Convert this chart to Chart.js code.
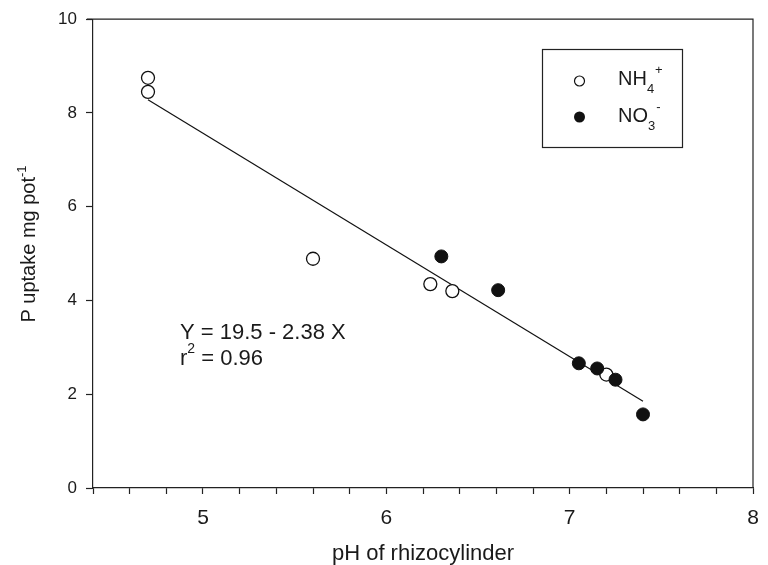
<!DOCTYPE html>
<html>
<head>
<meta charset="utf-8">
<script src="https://cdn.jsdelivr.net/npm/chart.js@4/dist/chart.umd.min.js"></script>
<style>
html,body{margin:0;padding:0;background:#fff;}
canvas{display:block;}
</style>
</head>
<body>
<canvas id="c" width="768" height="565"></canvas>
<script>
// NH4+ (open circles)
const nh4X = [4.70, 4.70, 5.60, 6.24, 6.36, 7.20];
const nh4Y = [8.75, 8.45, 4.89, 4.35, 4.20, 2.42];
// NO3- (filled circles)
const no3X = [6.30, 6.61, 7.05, 7.15, 7.25, 7.40];
const no3Y = [4.94, 4.22, 2.66, 2.55, 2.31, 1.57];
// regression line end points
const fitX = [4.70, 7.40];
const fitY = [8.28, 1.85];
const xTickLabels = [5, 6, 7, 8];
const yTickLabels = [0, 2, 4, 6, 8, 10];

const FONT = "'Liberation Sans', Arial, sans-serif";
const pts = (xs, ys) => xs.map((x, i) => ({x: x, y: ys[i]}));

const overlay = {
  id: 'overlay',
  afterDraw(chart) {
    const ctx = chart.ctx;
    const a = chart.chartArea;
    ctx.save();
    // frame top and right
    ctx.strokeStyle = '#222';
    ctx.lineWidth = 1.2;
    ctx.beginPath();
    ctx.moveTo(a.left - 6, a.top);
    ctx.lineTo(a.right, a.top);
    ctx.lineTo(a.right, a.bottom);
    ctx.stroke();

    // y axis title with superscript
    ctx.fillStyle = '#1a1a1a';
    ctx.save();
    ctx.translate(35, 244);
    ctx.rotate(-Math.PI / 2);
    const main = 'P uptake mg pot';
    ctx.font = '20px ' + FONT;
    const w1 = ctx.measureText(main).width;
    ctx.font = '13px ' + FONT;
    const w2 = ctx.measureText('-1').width;
    const start = -(w1 + w2) / 2;
    ctx.textBaseline = 'alphabetic';
    ctx.textAlign = 'left';
    ctx.font = '20px ' + FONT;
    ctx.fillText(main, start, 0);
    ctx.font = '13px ' + FONT;
    ctx.fillText('-1', start + w1, -9);
    ctx.restore();

    // equation
    ctx.textAlign = 'left';
    ctx.textBaseline = 'alphabetic';
    ctx.font = '22px ' + FONT;
    ctx.fillText('Y = 19.5 - 2.38 X', 180, 339);
    ctx.fillText('r', 180, 365);
    let rw = ctx.measureText('r').width;
    ctx.font = '14px ' + FONT;
    ctx.fillText('2', 180 + rw, 353);
    let tw = ctx.measureText('2').width;
    ctx.font = '22px ' + FONT;
    ctx.fillText(' = 0.96', 180 + rw + tw, 365);

    // legend box
    ctx.strokeStyle = '#222';
    ctx.lineWidth = 1.2;
    ctx.strokeRect(542.5, 49.5, 140, 98);
    // symbols
    ctx.beginPath();
    ctx.arc(579.5, 81, 5, 0, Math.PI * 2);
    ctx.fillStyle = '#fff';
    ctx.fill();
    ctx.strokeStyle = '#111';
    ctx.stroke();
    ctx.beginPath();
    ctx.arc(579.5, 117, 5.5, 0, Math.PI * 2);
    ctx.fillStyle = '#111';
    ctx.fill();
    // legend text
    ctx.fillStyle = '#1a1a1a';
    ctx.font = '20px ' + FONT;
    ctx.fillText('NH', 618, 85);
    let nw = ctx.measureText('NH').width;
    ctx.font = '13px ' + FONT;
    ctx.fillText('4', 618 + nw, 93);
    let sw = ctx.measureText('4').width;
    ctx.fillText('+', 618 + nw + sw + 1, 74);
    ctx.font = '20px ' + FONT;
    ctx.fillText('NO', 618, 122);
    nw = ctx.measureText('NO').width;
    ctx.font = '13px ' + FONT;
    ctx.fillText('3', 618 + nw, 130);
    sw = ctx.measureText('3').width;
    ctx.fillText('-', 618 + nw + sw + 1, 111);
    ctx.restore();
  }
};

new Chart(document.getElementById('c'), {
  type: 'scatter',
  data: {
    datasets: [
      {
        label: 'NO3-',
        data: pts(no3X, no3Y),
        pointRadius: 6.5,
        pointHoverRadius: 6.5,
        pointBackgroundColor: '#111',
        pointBorderColor: '#111',
        pointBorderWidth: 1,
        showLine: false,
        order: 1
      },
      {
        label: 'NH4+',
        data: pts(nh4X, nh4Y),
        pointRadius: 6.5,
        pointHoverRadius: 6.5,
        pointBackgroundColor: '#fff',
        pointBorderColor: '#111',
        pointBorderWidth: 1.3,
        showLine: false,
        order: 2
      },
      {
        label: 'fit',
        data: pts(fitX, fitY),
        showLine: true,
        borderColor: '#111',
        borderWidth: 1.2,
        pointRadius: 0,
        fill: false,
        order: 3
      }
    ]
  },
  options: {
    responsive: false,
    animation: false,
    layout: {padding: {top: 17, right: 15, left: 0, bottom: 0}},
    plugins: {legend: {display: false}, tooltip: {enabled: false}},
    scales: {
      x: {
        type: 'linear',
        min: 4.4,
        max: 8,
        afterFit(s) { s.height = 77; s.paddingLeft = 0; s.paddingRight = 0; },
        border: {display: true, color: '#222', width: 1.2},
        grid: {drawOnChartArea: false, drawTicks: true, tickLength: 6, tickColor: '#222', tickWidth: 1.2},
        ticks: {
          stepSize: 0.2,
          autoSkip: false,
          maxRotation: 0,
          padding: 12,
          color: '#1a1a1a',
          font: {family: FONT, size: 21},
          callback(v) {
            const r = Math.round(v);
            return (Math.abs(v - r) < 1e-6 && xTickLabels.includes(r)) ? String(r) : '';
          }
        },
        title: {
          display: true,
          text: 'pH of rhizocylinder',
          color: '#1a1a1a',
          font: {family: FONT, size: 22, lineHeight: 1},
          padding: {top: 0, bottom: 0}
        }
      },
      y: {
        type: 'linear',
        min: 0,
        max: 10,
        afterFit(s) { s.width = 93; },
        border: {display: true, color: '#222', width: 1.2},
        grid: {drawOnChartArea: false, drawTicks: true, tickLength: 7, tickColor: '#222', tickWidth: 1.2},
        ticks: {
          stepSize: 2,
          padding: 9,
          color: '#1a1a1a',
          font: {family: FONT, size: 17},
          callback(v) { return yTickLabels.includes(v) ? String(v) : ''; }
        },
        title: {display: false}
      }
    }
  },
  plugins: [overlay]
});
</script>
</body>
</html>
